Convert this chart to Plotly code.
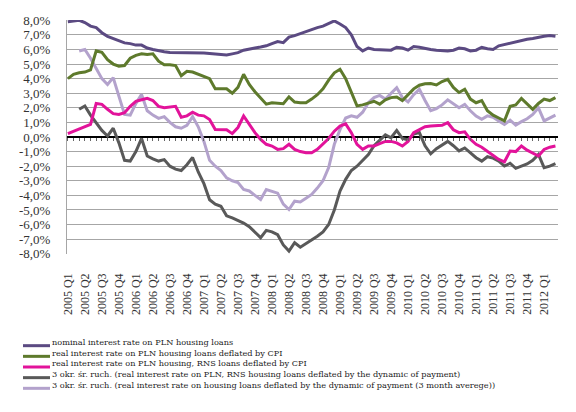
import plotly.graph_objects as go

# ─── Data (monthly, Jan 2005 - Mar 2012) ──────────────────────────────────────
QUARTER_LABELS = [f'{y} Q{q}' for y in range(2005, 2013) for q in range(1, 5)][:29]

NOMINAL = [
    7.9, 7.95, 8.0, 7.85, 7.6, 7.5, 7.15, 6.9, 6.75, 6.6, 6.45, 6.4,
    6.3, 6.3, 6.1, 6.0, 5.9, 5.85, 5.8, 5.8, 5.78, 5.8, 5.78, 5.8,
    5.75, 5.72, 5.7, 5.65, 5.62, 5.7, 5.78, 5.95, 6.0, 6.1, 6.17, 6.25,
    6.4, 6.54, 6.47, 6.85, 6.95, 7.1, 7.25, 7.4, 7.5, 7.6, 7.8, 7.96,
    7.75, 7.5, 7.0, 6.2, 5.9, 6.1, 6.0, 6.0, 6.0, 5.95, 6.15, 6.1,
    5.95, 6.2, 6.15, 6.05, 6.0, 5.95, 5.9, 5.9, 5.95, 6.1, 6.05, 5.9,
    5.95, 6.15, 6.05, 6.0, 6.25, 6.35, 6.45, 6.55, 6.65, 6.7, 6.75, 6.85,
    6.9, 6.95, 6.9,
]

REAL_CPI = [
    4.0, 4.3, 4.4, 4.45, 4.6, 5.9, 5.8, 5.3, 5.0, 4.85, 4.9, 5.4,
    5.6, 5.7, 5.65, 5.7, 5.2, 4.95, 4.95, 4.9, 4.2, 4.5, 4.45, 4.3,
    4.2, 4.0, 3.3, 3.3, 3.3, 3.0, 3.4, 4.3, 3.6, 3.1, 2.7, 2.25,
    2.35, 2.3, 2.28, 2.75, 2.4, 2.35, 2.35, 2.6, 2.9, 3.3, 3.9, 4.4,
    4.64, 4.0, 3.0, 2.13, 2.2, 2.35, 2.45, 2.25, 2.55, 2.7, 2.74, 2.5,
    2.9, 3.3, 3.55, 3.65, 3.66, 3.57, 3.8, 3.95, 3.4, 3.05, 3.27, 2.6,
    2.35, 2.5, 1.8, 1.5, 1.3, 1.1, 2.1, 2.2, 2.65, 2.25, 1.9, 2.3,
    2.6, 2.5, 2.7,
]

RNS_CPI = [
    0.23, 0.4, 0.52, 0.7, 0.86, 2.3, 2.24, 1.9, 1.6, 1.55, 1.67, 2.1,
    2.45, 2.55, 2.65, 2.5, 2.1, 2.0, 2.05, 2.1, 1.35, 1.45, 1.7, 1.5,
    1.45, 1.2, 0.52, 0.52, 0.5, 0.23, 0.65, 1.44, 0.86, 0.3, -0.16, -0.5,
    -0.62, -0.85, -0.8, -0.5, -0.85, -1.0, -1.08, -1.08, -0.85, -0.5, -0.1, 0.4,
    0.75, 0.9, 0.3, -0.5, -0.85, -0.62, -0.62, -0.45, -0.3, -0.3, -0.4, -0.62,
    -0.3, 0.3, 0.5, 0.7, 0.75, 0.75, 0.8, 0.98, 0.5, 0.3, 0.36, -0.16,
    -0.5, -0.7, -1.0, -1.3, -1.54, -1.7, -0.96, -1.0, -0.62, -0.9, -1.08, -1.3,
    -0.85, -0.7, -0.62,
]

RNS_PAYMENT = [
    None, None, 1.9, 2.13, 1.5, 1.0, 0.45, 0.07, 0.6, -0.4, -1.6, -1.65,
    -1.0, -0.1, -1.3, -1.5, -1.65, -1.55, -2.0, -2.2, -2.3, -1.9, -1.4, -2.4,
    -3.2, -4.3, -4.6, -4.75, -5.4, -5.55, -5.7, -5.9, -6.15, -6.5, -6.9, -6.4,
    -6.5, -6.7, -7.4, -7.82, -7.25, -7.55, -7.3, -7.1, -6.8, -6.5, -6.0, -5.0,
    -3.7, -2.9, -2.3, -2.0, -1.6, -1.2, -0.6, -0.2, 0.15, -0.05, 0.45, -0.1,
    -0.2, 0.2, 0.3, -0.6, -1.15, -0.8, -0.55, -0.3, -0.6, -0.95, -0.75, -1.1,
    -1.42, -1.65, -1.35, -1.45, -1.65, -1.99, -1.8, -2.15, -2.0, -1.85, -1.6, -1.2,
    -2.1, -2.0, -1.83,
]

HOUSING_PAYMENT = [
    None, None, 5.9, 6.0, 5.4, 4.7, 4.0, 3.6, 4.07, 2.8, 1.55, 1.5,
    2.3, 2.92, 1.8, 1.5, 1.28, 1.4, 1.0, 0.7, 0.6, 0.8, 1.4, 0.7,
    -0.3, -1.6, -2.0, -2.3, -2.8, -3.0, -3.13, -3.6, -3.7, -4.0, -4.28, -3.6,
    -3.7, -3.85, -4.6, -4.97, -4.4, -4.45, -4.2, -3.94, -3.5, -3.0, -2.1, -0.5,
    0.5, 1.3, 1.45, 1.35, 1.7, 2.35, 2.7, 2.85, 2.6, 3.0, 3.38, 2.7,
    2.4, 2.9, 3.27, 2.5, 1.8, 1.95, 2.2, 2.55, 2.3, 2.0, 2.24, 1.8,
    1.44, 1.21, 1.45, 1.35, 1.1, 0.86, 1.15, 0.82, 1.05, 1.25, 1.55, 2.0,
    1.1, 1.3, 1.5,
]

MONTHS = list(range(len(NOMINAL)))

SERIES = [
    ('nominal interest rate on PLN housing loans', NOMINAL, '#5b4a82'),
    ('real interest rate on PLN housing loans deflated by CPI', REAL_CPI, '#5e7a2c'),
    ('real interest rate on PLN housing, RNS loans deflated by CPI', RNS_CPI, '#e2139a'),
    ('3 okr. śr. ruch. (real interest rate on PLN, RNS housing loans deflated by the dynamic of payment)',
     RNS_PAYMENT, '#595959'),
    ('3 okr. śr. ruch. (real interest rate on housing loans deflated by the dynamic of payment (3 month averege))',
     HOUSING_PAYMENT, '#b3a2cc'),
]

FONT = 'Liberation Serif, Times New Roman, serif'
LEGEND_FONT = 'DejaVu Serif, serif'
LEGEND_SIZE = 8.2

# plot area in pixels (fixed margins)
W, H = 576, 412
M_L, M_R, M_T, M_B = 59, 26, 12, 166
PLOT_W = W - M_L - M_R
PLOT_H = H - M_T - M_B


def px_to_paper(x_px, y_px):
    return (x_px - M_L) / PLOT_W, (M_T + PLOT_H - y_px) / PLOT_H


fig = go.Figure()

# draw back-to-front so the nominal line sits on top as in the original
for name, values, color in reversed(SERIES):
    fig.add_trace(go.Scatter(
        x=MONTHS, y=values, mode='lines', name=name,
        line=dict(color=color, width=3),
        showlegend=False,
    ))

# invisible trace on the overlay axis that carries the monthly ticks on the 0% line
fig.add_trace(go.Scatter(
    x=MONTHS, y=[0] * len(MONTHS), xaxis='x2', mode='lines',
    line=dict(width=0), hoverinfo='skip', showlegend=False,
))

y_ticks = list(range(-8, 9))
y_text = [f'{v},0%' for v in y_ticks]

fig.update_layout(
    width=W, height=H,
    margin=dict(l=M_L, r=M_R, t=M_T, b=M_B, autoexpand=False),
    plot_bgcolor='white', paper_bgcolor='white',
    font=dict(family=FONT, size=12, color='#222'),
    xaxis=dict(
        range=[-0.15, 86.45],
        tickvals=MONTHS[::3], ticktext=QUARTER_LABELS,
        tickangle=-90, ticks='', showgrid=False,
        showline=False, zeroline=False,
        ticklabelstandoff=16,
        tickfont=dict(family=FONT, size=12, color='#333'),
    ),
    xaxis2=dict(
        range=[-0.15, 86.45], overlaying='x', anchor='free', position=0.5,
        matches='x', dtick=1, tick0=0, ticks='outside', ticklen=3, tickwidth=1,
        tickcolor='#666', showticklabels=False, showgrid=False,
        showline=False, zeroline=False,
    ),
    yaxis=dict(
        range=[-8.02, 8.02],
        tickvals=y_ticks, ticktext=y_text,
        showgrid=True, gridcolor='#a6a6a6', gridwidth=1,
        zeroline=True, zerolinecolor='black', zerolinewidth=2,
        showline=True, linecolor='#a6a6a6', linewidth=1,
        ticks='', ticklabelstandoff=13,
        tickfont=dict(family=FONT, size=13, color='#333'),
    ),
)

# compact legend below the chart: one text block, line samples beside each row
legend_mid = 359
row_gap = 1.3 * LEGEND_SIZE
n = len(SERIES)
for k, (name, values, color) in enumerate(SERIES):
    y_px = legend_mid + (k - (n - 1) / 2) * row_gap
    x0, yp = px_to_paper(15, y_px)
    x1, _ = px_to_paper(42, y_px)
    fig.add_shape(
        type='line', xref='paper', yref='paper',
        x0=x0, x1=x1, y0=yp, y1=yp,
        line=dict(color=color, width=3),
    )

# the text block's box carries some extra leading below, so lift it a little
xt, yt = px_to_paper(43, legend_mid - 3.5)
fig.add_annotation(
    xref='paper', yref='paper', x=xt, y=yt,
    text='<br>'.join(name for name, _, _ in SERIES),
    showarrow=False, xanchor='left', yanchor='middle', align='left',
    borderpad=0,
    font=dict(family=LEGEND_FONT, size=LEGEND_SIZE, color='#222'),
)

fig.write_html('out.html')
